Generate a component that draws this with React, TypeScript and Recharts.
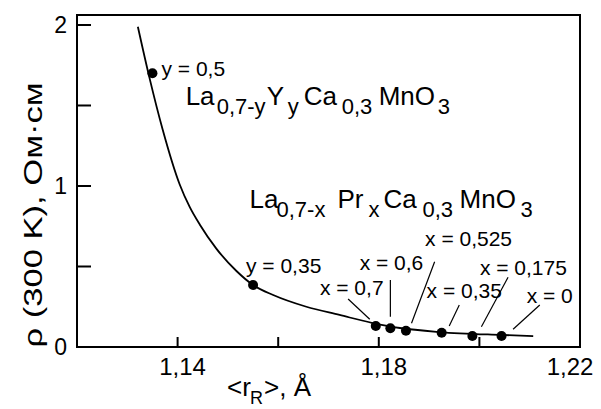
import React from "react";
import { ComposedChart, Line, Scatter, XAxis, YAxis, ReferenceLine, ReferenceDot } from "recharts";

// fitted curve
const curveR = [1.1321, 1.1344, 1.137, 1.1404, 1.1424, 1.1444, 1.1477, 1.1517, 1.155, 1.159, 1.1656, 1.1722, 1.1788, 1.1842, 1.1921, 1.2041, 1.2107];
const curveRho = [1.989, 1.673, 1.354, 1.011, 0.87, 0.761, 0.611, 0.472, 0.385, 0.323, 0.25, 0.199, 0.149, 0.118, 0.093, 0.075, 0.068];

// measured samples
const pointR = [1.135, 1.155, 1.1794, 1.1823, 1.1854, 1.1925, 1.1986, 1.2044];
const pointRho = [1.7, 0.385, 0.13, 0.116, 0.101, 0.089, 0.068, 0.068];

const labelText = ["y = 0,5", "y = 0,35", "x = 0,7", "x = 0,6", "x = 0,525", "x = 0,35", "x = 0,175", "x = 0"];
const labelR = [1.1368, 1.1536, 1.1683, 1.1762, 1.1892, 1.1895, 1.2001, 1.2094];
const labelRho = [1.683, 0.46, 0.323, 0.478, 0.627, 0.304, 0.447, 0.273];

// leader lines for the x = ... labels
const leadR1 = [1.1739, 1.1823, 1.1911, 1.196, 1.2057, 1.212];
const leadRho1 = [0.298, 0.416, 0.53, 0.261, 0.433, 0.261];
const leadR2 = [1.1782, 1.1823, 1.1865, 1.194, 1.2004, 1.2067];
const leadRho2 = [0.172, 0.188, 0.147, 0.13, 0.126, 0.11];

const xTicks = [1.14, 1.16, 1.18, 1.2, 1.22];
const xTickLabels = ["1,14", "", "1,18", "", "1,22"];
const yTicks = [0, 0.5, 1, 1.5, 2];
const yTickLabels = ["0", "", "1", "", "2"];

// formula pieces: [text, isSub, offset]
const formulaY: [string, boolean, number][] = [
  ["La", false, 0], ["0,7-y", true, 31], ["Y", false, 81], ["y", true, 102],
  ["Ca", false, 118], ["0,3", true, 156], ["MnO", false, 193], ["3", true, 252],
];
const formulaX: [string, boolean, number][] = [
  ["La", false, 0], ["0,7-x", true, 27], ["Pr", false, 88], ["x", true, 119],
  ["Ca", false, 134], ["0,3", true, 173], ["MnO", false, 210], ["3", true, 271],
];

const FONT = "'Liberation Sans', Arial, Helvetica, sans-serif";
const X_DOMAIN: [number, number] = [1.12, 1.22];
const Y_DOMAIN: [number, number] = [0, 2.062];

const W = 601;
const H = 409;
const MARGIN = { top: 15, right: 21, bottom: 22, left: 37 };
const Y_AXIS_W = 40;
const X_AXIS_H = 40;

const curveData = curveR.map((r, i) => ({ r, rho: curveRho[i] }));
const pointData = pointR.map((r, i) => ({ r, rho: pointRho[i] }));

const XTick = (props: any) => {
  const { x, y, payload } = props;
  const i = xTicks.indexOf(payload.value);
  const lbl = xTickLabels[i] || "";
  const shift = payload.value >= 1.22 ? -10 : 5;
  return (
    <g>
      <line x1={x} y1={y} x2={x} y2={y - 10} stroke="#000" strokeWidth={2} />
      {lbl && (
        <text x={x + shift} y={y + 28} textAnchor="middle" fontSize={24} fontFamily={FONT} fill="#000">
          {lbl}
        </text>
      )}
    </g>
  );
};

const YTick = (props: any) => {
  const { x, y, payload } = props;
  const i = yTicks.indexOf(payload.value);
  const lbl = yTickLabels[i] || "";
  return (
    <g>
      <line x1={x} y1={y} x2={x + 14} y2={y} stroke="#000" strokeWidth={2} />
      {lbl && (
        <text x={x - 10} y={y + 8} textAnchor="end" fontSize={23} fontFamily={FONT} fill="#000">
          {lbl}
        </text>
      )}
    </g>
  );
};

const Dot = (p: any) => <circle cx={p.cx} cy={p.cy} r={5} fill="#000" />;

const makeLabel = (txt: string) => (p: any) => (
  <text x={p.cx} y={p.cy} fontSize={21} fontFamily={FONT} fill="#000">
    {txt}
  </text>
);

const makeFormula = (parts: [string, boolean, number][]) => (p: any) => (
  <text fontFamily={FONT} fill="#000">
    {parts.map(([t, sub, off], k) => (
      <tspan key={k} x={p.cx + off} y={sub ? p.cy + 9 : p.cy} fontSize={sub ? 22 : 26}>
        {t}
      </tspan>
    ))}
  </text>
);

const frameLine = { stroke: "#000", strokeWidth: 2 };

// plot box, from the layout constants
const plotLeft = MARGIN.left + Y_AXIS_W;
const plotTop = MARGIN.top;
const plotW = W - plotLeft - MARGIN.right;
const plotH = H - plotTop - MARGIN.bottom - X_AXIS_H;

export default function App() {
  return (
    <div style={{ position: "absolute", left: 0, top: 0, width: W, height: H, background: "#fff" }}>
      <ComposedChart width={W} height={H} margin={MARGIN}>
        <XAxis
          dataKey="r"
          type="number"
          domain={X_DOMAIN}
          ticks={xTicks}
          interval={0}
          height={X_AXIS_H}
          tickSize={0}
          tickMargin={0}
          tickLine={false}
          axisLine={frameLine}
          tick={<XTick />}
          allowDataOverflow
        />
        <YAxis
          dataKey="rho"
          type="number"
          domain={Y_DOMAIN}
          ticks={yTicks}
          interval={0}
          width={Y_AXIS_W}
          tickSize={0}
          tickMargin={0}
          tickLine={false}
          axisLine={frameLine}
          tick={<YTick />}
          allowDataOverflow
        />
        <Line
          data={curveData}
          dataKey="rho"
          type="monotone"
          stroke="#000"
          strokeWidth={1.8}
          dot={false}
          activeDot={false}
          isAnimationActive={false}
        />
        <Scatter data={pointData} dataKey="rho" fill="#000" shape={<Dot />} isAnimationActive={false} />
        {leadR1.map((r, i) => (
          <ReferenceLine
            key={"l" + i}
            segment={[{ x: r, y: leadRho1[i] }, { x: leadR2[i], y: leadRho2[i] }]}
            stroke="#000"
            strokeWidth={1.2}
          />
        ))}
        {labelText.map((t, i) => (
          <ReferenceDot key={"t" + i} x={labelR[i]} y={labelRho[i]} r={0} shape={makeLabel(t)} />
        ))}
        <ReferenceDot x={1.1416} y={1.5} r={0} shape={makeFormula(formulaY)} />
        <ReferenceDot x={1.1543} y={0.863} r={0} shape={makeFormula(formulaX)} />
        <text
          transform="translate(42,215) rotate(-90)"
          textAnchor="middle"
          fontSize={25}
          fontFamily={FONT}
          textLength={265}
          lengthAdjust="spacingAndGlyphs"
          fill="#000"
        >
          ρ (300 K), Ом·см
        </text>
        <text fontFamily={FONT} fill="#000">
          <tspan x={227} y={396} fontSize={26}>{"<r"}</tspan>
          <tspan x={250} y={404} fontSize={18}>R</tspan>
          <tspan x={264} y={396} fontSize={26}>{">, Å"}</tspan>
        </text>
      </ComposedChart>
      {/* frame around the plot area (top and right sides) */}
      <div
        style={{
          position: "absolute",
          left: plotLeft - 1,
          top: plotTop - 1,
          width: plotW + 2,
          height: plotH + 2,
          boxSizing: "border-box",
          border: "2px solid #000",
          pointerEvents: "none",
        }}
      />
    </div>
  );
}
